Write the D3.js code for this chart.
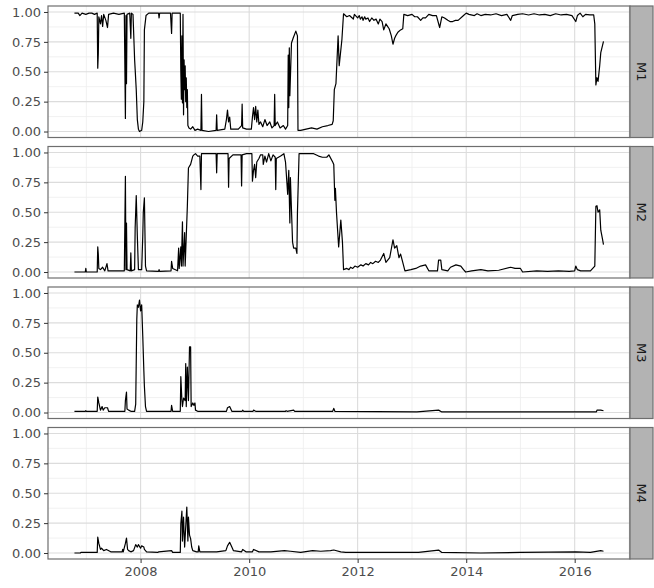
<!DOCTYPE html>
<html>
<head>
<meta charset="utf-8">
<script src="https://cdn.jsdelivr.net/npm/d3@7"></script>
<style>
  body { margin: 0; background: #fff; }
  text { font-family: 'DejaVu Sans', sans-serif; }
</style>
</head>
<body>
<svg id="chart"></svg>
<script>
// facet labels
const panels = ['M1', 'M2', 'M3', 'M4'];

// [decimal year, value]
const m1 = [
  [2006.78, 0.99], [2006.85, 0.99], [2006.88, 0.97], [2006.92, 0.99], [2006.99, 0.98],
  [2007.05, 0.99], [2007.10, 0.99], [2007.15, 0.98], [2007.20, 0.99], [2007.21, 0.53],
  [2007.22, 0.65], [2007.23, 0.96], [2007.26, 0.9], [2007.28, 0.97], [2007.30, 0.88],
  [2007.32, 0.98], [2007.36, 0.93], [2007.39, 0.87], [2007.41, 0.98], [2007.50, 0.99],
  [2007.60, 0.98], [2007.70, 0.99], [2007.72, 0.11], [2007.73, 0.97], [2007.74, 0.4],
  [2007.75, 0.98], [2007.80, 0.99], [2007.82, 0.78], [2007.83, 0.99], [2007.86, 0.98],
  [2007.89, 0.6], [2007.90, 0.52], [2007.92, 0.35], [2007.94, 0.1], [2007.96, 0.02],
  [2007.98, 0.0], [2008.02, 0.01], [2008.04, 0.08], [2008.06, 0.25], [2008.07, 0.85],
  [2008.10, 0.97], [2008.15, 0.99], [2008.33, 0.99], [2008.34, 0.95], [2008.35, 0.99],
  [2008.55, 0.99], [2008.57, 0.82], [2008.58, 0.99], [2008.73, 0.99], [2008.74, 0.5],
  [2008.75, 0.27], [2008.76, 0.8], [2008.77, 0.24], [2008.78, 0.98], [2008.79, 0.14],
  [2008.80, 0.6], [2008.81, 0.35], [2008.82, 0.55], [2008.83, 0.25], [2008.84, 0.45],
  [2008.85, 0.2], [2008.86, 0.35], [2008.87, 0.05], [2008.89, 0.03], [2008.92, 0.02],
  [2008.96, 0.04], [2009.00, 0.01], [2009.05, 0.02], [2009.11, 0.01], [2009.12, 0.31],
  [2009.13, 0.01], [2009.25, 0.0], [2009.39, 0.01], [2009.40, 0.14], [2009.41, 0.01],
  [2009.55, 0.02], [2009.58, 0.1], [2009.60, 0.18], [2009.62, 0.08], [2009.64, 0.12],
  [2009.66, 0.02], [2009.80, 0.02], [2009.86, 0.05], [2009.87, 0.23], [2009.88, 0.03],
  [2009.95, 0.02], [2010.04, 0.02], [2010.06, 0.12], [2010.08, 0.2], [2010.10, 0.1],
  [2010.12, 0.21], [2010.14, 0.08], [2010.16, 0.18], [2010.18, 0.06], [2010.21, 0.08],
  [2010.25, 0.04], [2010.29, 0.1], [2010.33, 0.05], [2010.38, 0.08], [2010.42, 0.03],
  [2010.46, 0.05], [2010.47, 0.31], [2010.48, 0.05], [2010.52, 0.08], [2010.57, 0.03],
  [2010.63, 0.05], [2010.67, 0.02], [2010.71, 0.05], [2010.72, 0.64], [2010.73, 0.2],
  [2010.74, 0.7], [2010.75, 0.3], [2010.78, 0.74], [2010.81, 0.78], [2010.86, 0.84],
  [2010.89, 0.8], [2010.90, 0.01], [2010.95, 0.01], [2011.05, 0.02], [2011.15, 0.03],
  [2011.25, 0.02], [2011.35, 0.04], [2011.45, 0.05], [2011.53, 0.06], [2011.55, 0.09],
  [2011.57, 0.35], [2011.60, 0.4], [2011.64, 0.8], [2011.66, 0.55], [2011.71, 0.77],
  [2011.74, 0.985], [2011.80, 0.96], [2011.85, 0.97], [2011.90, 0.95], [2011.92, 0.94],
  [2011.94, 0.98], [2012.00, 0.95], [2012.03, 0.97], [2012.05, 0.94], [2012.08, 0.96],
  [2012.10, 0.93], [2012.13, 0.96], [2012.15, 0.94], [2012.19, 0.95], [2012.22, 0.92],
  [2012.26, 0.95], [2012.30, 0.93], [2012.34, 0.94], [2012.38, 0.9], [2012.41, 0.94],
  [2012.45, 0.92], [2012.48, 0.85], [2012.52, 0.9], [2012.55, 0.88], [2012.58, 0.86],
  [2012.62, 0.8], [2012.65, 0.73], [2012.68, 0.78], [2012.70, 0.8], [2012.74, 0.83],
  [2012.79, 0.85], [2012.83, 0.86], [2012.85, 0.98], [2012.92, 0.97], [2013.00, 0.98],
  [2013.05, 0.96], [2013.10, 0.96], [2013.16, 0.93], [2013.20, 0.95], [2013.25, 0.95],
  [2013.31, 0.98], [2013.38, 0.97], [2013.45, 0.97], [2013.51, 0.87], [2013.55, 0.96],
  [2013.60, 0.95], [2013.66, 0.93], [2013.70, 0.92], [2013.75, 0.92], [2013.80, 0.93],
  [2013.85, 0.93], [2013.95, 0.97], [2014.00, 0.99], [2014.05, 0.98], [2014.15, 0.97],
  [2014.20, 0.985], [2014.27, 0.97], [2014.35, 0.98], [2014.45, 0.975], [2014.55, 0.985],
  [2014.65, 0.97], [2014.75, 0.98], [2014.82, 0.93], [2014.85, 0.97], [2014.95, 0.98],
  [2015.04, 0.985], [2015.15, 0.975], [2015.25, 0.985], [2015.35, 0.975], [2015.45, 0.98],
  [2015.55, 0.97], [2015.65, 0.985], [2015.75, 0.975], [2015.85, 0.98], [2015.95, 0.97],
  [2016.02, 0.92], [2016.05, 0.97], [2016.10, 0.99], [2016.15, 0.96], [2016.20, 0.98],
  [2016.28, 0.975], [2016.35, 0.975], [2016.37, 0.9], [2016.39, 0.39], [2016.41, 0.45],
  [2016.43, 0.42], [2016.46, 0.55], [2016.48, 0.66], [2016.53, 0.755],
];

const m2 = [
  [2006.78, 0.0], [2006.98, 0.0], [2006.99, 0.03], [2007.00, 0.0], [2007.20, 0.0],
  [2007.21, 0.21], [2007.22, 0.15], [2007.23, 0.03], [2007.26, 0.02], [2007.30, 0.04],
  [2007.34, 0.01], [2007.38, 0.07], [2007.40, 0.01], [2007.70, 0.01], [2007.72, 0.8],
  [2007.73, 0.02], [2007.74, 0.41], [2007.75, 0.02], [2007.81, 0.01], [2007.82, 0.16],
  [2007.83, 0.01], [2007.89, 0.02], [2007.90, 0.37], [2007.92, 0.64], [2007.94, 0.3],
  [2007.96, 0.02], [2008.02, 0.02], [2008.04, 0.3], [2008.05, 0.5], [2008.07, 0.62],
  [2008.09, 0.05], [2008.11, 0.01], [2008.33, 0.005], [2008.34, 0.02], [2008.35, 0.005],
  [2008.56, 0.01], [2008.57, 0.09], [2008.59, 0.03], [2008.68, 0.01], [2008.70, 0.2],
  [2008.71, 0.03], [2008.74, 0.21], [2008.75, 0.05], [2008.77, 0.42], [2008.78, 0.05],
  [2008.81, 0.33], [2008.82, 0.05], [2008.84, 0.3], [2008.86, 0.55], [2008.88, 0.87],
  [2008.92, 0.9], [2008.96, 0.97], [2008.98, 0.98], [2009.01, 0.99], [2009.05, 0.97],
  [2009.09, 0.97], [2009.11, 0.69], [2009.12, 0.99], [2009.39, 0.99], [2009.40, 0.83],
  [2009.41, 0.99], [2009.61, 0.99], [2009.62, 0.71], [2009.63, 0.95], [2009.70, 0.98],
  [2009.85, 0.98], [2009.86, 0.72], [2009.87, 0.98], [2009.95, 0.99], [2010.05, 0.99],
  [2010.06, 0.76], [2010.08, 0.85], [2010.10, 0.9], [2010.12, 0.79], [2010.14, 0.92],
  [2010.18, 0.95], [2010.21, 0.98], [2010.25, 0.98], [2010.26, 0.9], [2010.29, 0.97],
  [2010.32, 0.92], [2010.36, 0.99], [2010.40, 0.93], [2010.44, 0.98], [2010.48, 0.96],
  [2010.49, 0.69], [2010.50, 0.95], [2010.58, 0.97], [2010.64, 0.99], [2010.67, 0.92],
  [2010.71, 0.65], [2010.73, 0.85], [2010.75, 0.41], [2010.76, 0.79], [2010.80, 0.25],
  [2010.82, 0.2], [2010.86, 0.2], [2010.88, 0.155], [2010.89, 0.5], [2010.92, 0.99],
  [2011.19, 0.99], [2011.28, 0.97], [2011.35, 0.96], [2011.43, 0.96], [2011.47, 0.98],
  [2011.54, 0.92], [2011.56, 0.9], [2011.58, 0.6], [2011.59, 0.7], [2011.61, 0.5],
  [2011.65, 0.21], [2011.69, 0.435], [2011.72, 0.25], [2011.74, 0.02], [2011.80, 0.03],
  [2011.84, 0.02], [2011.87, 0.04], [2011.91, 0.03], [2011.95, 0.05], [2012.00, 0.04],
  [2012.06, 0.06], [2012.10, 0.05], [2012.15, 0.07], [2012.20, 0.06], [2012.24, 0.08],
  [2012.28, 0.07], [2012.33, 0.09], [2012.38, 0.08], [2012.42, 0.1], [2012.48, 0.155],
  [2012.52, 0.08], [2012.59, 0.12], [2012.65, 0.27], [2012.68, 0.2], [2012.72, 0.22],
  [2012.76, 0.12], [2012.79, 0.15], [2012.83, 0.08], [2012.87, 0.01], [2012.98, 0.02],
  [2013.07, 0.03], [2013.16, 0.05], [2013.25, 0.06], [2013.31, 0.01], [2013.47, 0.01],
  [2013.49, 0.1], [2013.53, 0.1], [2013.55, 0.02], [2013.66, 0.01], [2013.71, 0.04],
  [2013.81, 0.06], [2013.90, 0.05], [2013.95, 0.02], [2013.99, 0.0], [2014.10, 0.01],
  [2014.27, 0.02], [2014.40, 0.01], [2014.60, 0.015], [2014.82, 0.04], [2014.90, 0.03],
  [2015.00, 0.03], [2015.04, 0.0], [2015.30, 0.01], [2015.50, 0.005], [2015.70, 0.01],
  [2015.90, 0.005], [2016.00, 0.01], [2016.02, 0.05], [2016.05, 0.02], [2016.11, 0.01],
  [2016.29, 0.01], [2016.37, 0.05], [2016.39, 0.55], [2016.41, 0.555], [2016.43, 0.5],
  [2016.46, 0.52], [2016.48, 0.35], [2016.51, 0.28], [2016.53, 0.23],
];

const m3 = [
  [2006.78, 0.01], [2006.98, 0.01], [2006.99, 0.015], [2007.00, 0.01], [2007.20, 0.01],
  [2007.21, 0.13], [2007.23, 0.08], [2007.26, 0.02], [2007.29, 0.05], [2007.31, 0.02],
  [2007.34, 0.04], [2007.39, 0.04], [2007.41, 0.01], [2007.71, 0.01], [2007.72, 0.1],
  [2007.74, 0.17], [2007.75, 0.03], [2007.78, 0.02], [2007.82, 0.01], [2007.89, 0.01],
  [2007.91, 0.07], [2007.93, 0.78], [2007.94, 0.9], [2007.96, 0.88], [2007.98, 0.94],
  [2008.00, 0.85], [2008.02, 0.9], [2008.04, 0.64], [2008.06, 0.35], [2008.07, 0.22],
  [2008.09, 0.05], [2008.11, 0.01], [2008.56, 0.01], [2008.57, 0.06], [2008.59, 0.01],
  [2008.73, 0.01], [2008.74, 0.3], [2008.76, 0.1], [2008.77, 0.05], [2008.79, 0.12],
  [2008.82, 0.1], [2008.83, 0.41], [2008.84, 0.05], [2008.86, 0.38], [2008.88, 0.1],
  [2008.90, 0.55], [2008.92, 0.55], [2008.93, 0.05], [2008.96, 0.08], [2008.98, 0.06],
  [2009.00, 0.08], [2009.01, 0.02], [2009.05, 0.01], [2009.58, 0.01], [2009.60, 0.04],
  [2009.64, 0.05], [2009.68, 0.01], [2009.87, 0.01], [2009.88, 0.02], [2009.90, 0.01],
  [2010.07, 0.01], [2010.08, 0.02], [2010.12, 0.01], [2010.67, 0.01], [2010.68, 0.015],
  [2010.70, 0.01], [2010.82, 0.02], [2010.84, 0.01], [2011.32, 0.01], [2011.54, 0.01],
  [2011.56, 0.035], [2011.58, 0.01], [2013.09, 0.005], [2013.49, 0.02], [2013.55, 0.005],
  [2016.02, 0.005], [2016.40, 0.005], [2016.41, 0.02], [2016.48, 0.02], [2016.53, 0.015],
];

const m4 = [
  [2006.78, 0.0], [2006.89, 0.0], [2006.90, 0.005], [2006.99, 0.005], [2007.20, 0.005],
  [2007.21, 0.134], [2007.23, 0.08], [2007.26, 0.03], [2007.28, 0.04], [2007.32, 0.02],
  [2007.37, 0.03], [2007.45, 0.01], [2007.66, 0.01], [2007.67, 0.03], [2007.68, 0.01],
  [2007.72, 0.08], [2007.74, 0.125], [2007.76, 0.03], [2007.78, 0.02], [2007.82, 0.01],
  [2007.87, 0.02], [2007.91, 0.07], [2007.94, 0.05], [2007.96, 0.07], [2008.00, 0.04],
  [2008.02, 0.06], [2008.06, 0.05], [2008.07, 0.03], [2008.11, 0.01], [2008.32, 0.005],
  [2008.33, 0.01], [2008.57, 0.02], [2008.59, 0.005], [2008.73, 0.005], [2008.74, 0.245],
  [2008.76, 0.35], [2008.77, 0.1], [2008.79, 0.3], [2008.81, 0.05], [2008.85, 0.385],
  [2008.87, 0.1], [2008.88, 0.3], [2008.90, 0.15], [2008.92, 0.12], [2008.94, 0.05],
  [2008.96, 0.02], [2009.03, 0.01], [2009.06, 0.01], [2009.07, 0.06], [2009.09, 0.01],
  [2009.40, 0.01], [2009.57, 0.02], [2009.60, 0.06], [2009.64, 0.09], [2009.68, 0.05],
  [2009.71, 0.02], [2009.86, 0.01], [2009.88, 0.03], [2009.94, 0.01], [2010.06, 0.01],
  [2010.08, 0.03], [2010.18, 0.01], [2010.40, 0.01], [2010.65, 0.02], [2010.76, 0.015],
  [2010.95, 0.005], [2011.17, 0.02], [2011.32, 0.015], [2011.50, 0.02], [2011.56, 0.025],
  [2011.69, 0.01], [2011.78, 0.005], [2012.79, 0.005], [2013.12, 0.005], [2013.49, 0.025],
  [2013.55, 0.005], [2014.27, 0.0], [2015.00, 0.005], [2016.02, 0.01], [2016.29, 0.005],
  [2016.48, 0.02], [2016.53, 0.015],
];

const series = [m1, m2, m3, m4];

// tick positions
const yTicks = [0, 0.25, 0.5, 0.75, 1];
const yMinor = [0.125, 0.375, 0.625, 0.875];
const xTicks = [2008, 2010, 2012, 2014, 2016];
const xMinor = [2007, 2009, 2011, 2013, 2015, 2017];

const config = { width: 654, height: 588 };
const margin = { top: 6, right: 24, bottom: 29, left: 48 };
const stripWidth = 23;
const panelGap = 9;

const width = config.width - margin.left - margin.right;
const panelHeight =
  (config.height - margin.top - margin.bottom - panelGap * (panels.length - 1)) /
  panels.length;

// decimal year -> Date
function toDate(y) {
  const yr = Math.floor(y);
  const s = new Date(yr, 0, 1);
  const e = new Date(yr + 1, 0, 1);
  return new Date(+s + (y - yr) * (e - s));
}

const allYears = series.flat().map(d => d[0]);
const [x0, x1] = d3.extent(allYears);
const pad = (x1 - x0) * 0.05;

const x = d3
  .scaleTime()
  .domain([toDate(x0 - pad), toDate(x1 + pad)])
  .range([0, width]);

const y = d3
  .scaleLinear()
  .domain([-0.05, 1.05])
  .range([panelHeight, 0]);

const svg = d3
  .select('#chart')
  .attr('width', config.width)
  .attr('height', config.height)
  .style('background', '#fff');

const line = d3
  .line()
  .x(d => x(toDate(d[0])))
  .y(d => y(d[1]));

panels.forEach((name, i) => {
  const g = svg
    .append('g')
    .attr('transform', `translate(${margin.left},${margin.top + i * (panelHeight + panelGap)})`);

  // minor grid
  g.selectAll('.ymin')
    .data(yMinor)
    .enter()
    .append('line')
    .attr('x1', 0)
    .attr('x2', width)
    .attr('y1', d => y(d))
    .attr('y2', d => y(d))
    .attr('stroke', '#eeeeee')
    .attr('stroke-width', 0.8);
  g.selectAll('.xmin')
    .data(xMinor.filter(d => x(toDate(d)) < width))
    .enter()
    .append('line')
    .attr('x1', d => x(toDate(d)))
    .attr('x2', d => x(toDate(d)))
    .attr('y1', 0)
    .attr('y2', panelHeight)
    .attr('stroke', '#eeeeee')
    .attr('stroke-width', 0.8);

  // major grid
  g.selectAll('.ymaj')
    .data(yTicks)
    .enter()
    .append('line')
    .attr('x1', 0)
    .attr('x2', width)
    .attr('y1', d => y(d))
    .attr('y2', d => y(d))
    .attr('stroke', '#dcdcdc')
    .attr('stroke-width', 1.1);
  g.selectAll('.xmaj')
    .data(xTicks)
    .enter()
    .append('line')
    .attr('x1', d => x(toDate(d)))
    .attr('x2', d => x(toDate(d)))
    .attr('y1', 0)
    .attr('y2', panelHeight)
    .attr('stroke', '#dcdcdc')
    .attr('stroke-width', 1.1);

  // the series
  g.append('path')
    .datum(series[i])
    .attr('d', line)
    .attr('fill', 'none')
    .attr('stroke', '#000')
    .attr('stroke-width', 1.2)
    .attr('stroke-linejoin', 'round');

  // panel border
  g.append('rect')
    .attr('width', width)
    .attr('height', panelHeight)
    .attr('fill', 'none')
    .attr('stroke', '#6e6e6e')
    .attr('stroke-width', 1.2);

  // y axis
  const yAxis = g
    .append('g')
    .call(
      d3.axisLeft(y)
        .tickValues(yTicks)
        .tickFormat(d3.format('.2f'))
        .tickSize(4)
        .tickPadding(3)
    );
  yAxis.select('.domain').remove();
  yAxis.selectAll('line').attr('stroke', '#333');
  yAxis.selectAll('text')
    .attr('fill', '#4d4d4d')
    .style('font-size', '13px')
    .style('font-family', "'DejaVu Sans', sans-serif");

  // strip
  const strip = g.append('g').attr('transform', `translate(${width},0)`);
  strip
    .append('rect')
    .attr('width', stripWidth)
    .attr('height', panelHeight)
    .attr('fill', '#b3b3b3')
    .attr('stroke', '#6e6e6e')
    .attr('stroke-width', 1.2);
  strip
    .append('text')
    .attr('transform', `translate(${stripWidth / 2},${panelHeight / 2}) rotate(90)`)
    .attr('text-anchor', 'middle')
    .attr('dy', '0.35em')
    .attr('fill', '#1a1a1a')
    .style('font-size', '13px')
    .text(name);

  // x axis on last panel
  if (i === panels.length - 1) {
    const xAxis = g
      .append('g')
      .attr('transform', `translate(0,${panelHeight})`)
      .call(
        d3.axisBottom(x)
          .tickValues(xTicks.map(toDate))
          .tickFormat(d3.timeFormat('%Y'))
          .tickSize(4)
          .tickPadding(4)
      );
    xAxis.select('.domain').remove();
    xAxis.selectAll('line').attr('stroke', '#333');
    xAxis.selectAll('text')
      .attr('fill', '#4d4d4d')
      .style('font-size', '13px')
      .style('font-family', "'DejaVu Sans', sans-serif");
  }
});
</script>
</body>
</html>
